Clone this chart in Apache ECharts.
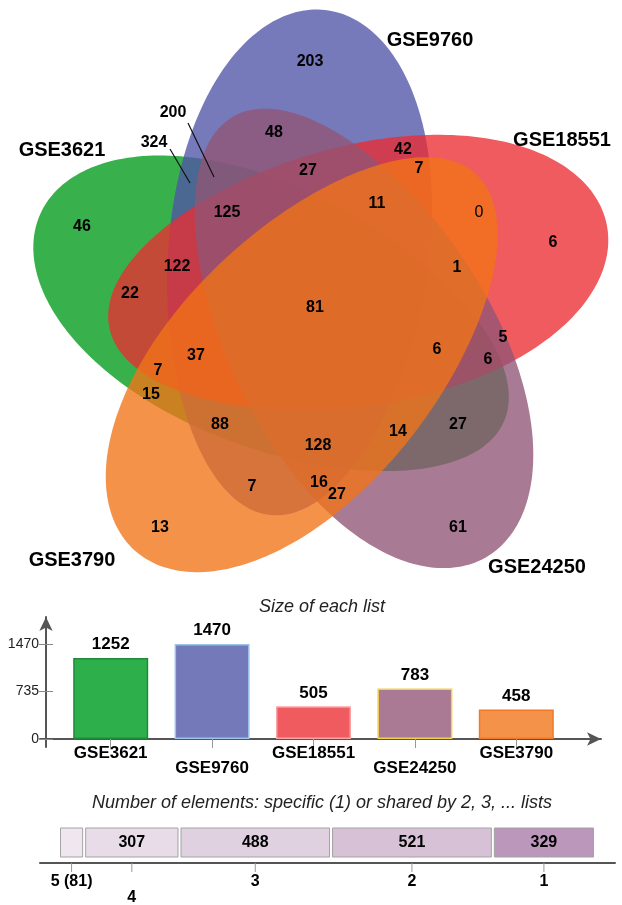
<!DOCTYPE html>
<html><head><meta charset="utf-8">
<script src="https://cdn.jsdelivr.net/npm/echarts@6/dist/echarts.min.js"></script>
<style>html,body{margin:0;padding:0;background:#fff}#c{width:622px;height:905px}</style>
</head><body><div id="c"></div>
<script>
// ---------------- data ----------------
const setNames = ['GSE3621', 'GSE9760', 'GSE18551', 'GSE24250', 'GSE3790'];
const listSizes = [1252, 1470, 505, 783, 458];
const sizeTicks = [0, 735, 1470];
const vennCounts = [203, 48, 200, 324, 42, 27, 7, 125, 11, 0, 6, 46, 122, 1, 22, 81, 37, 6, 5, 6, 7, 15, 88, 128, 14, 27, 7, 16, 27, 13, 61];
const sharedLevels = ['5 (81)', '4', '3', '2', '1'];
const sharedCounts = [81, 307, 488, 521, 329];

// ---------------- layout / style ----------------
const FONT = '"Liberation Sans", Arial, Helvetica, sans-serif';
const setColors = ['#2db04b', '#7479ba', '#ef5b5f', '#aa7993', '#f5924a'];
const barBorders = ['#1e8a3a', '#9cc3ea', '#f7a3a5', '#f0d050', '#f07a2a'];
const vennFills = ['rgba(0,154,24,0.78)', 'rgba(80,83,167,0.78)', 'rgba(235,45,50,0.78)', 'rgba(145,85,117,0.78)', 'rgba(242,115,23,0.78)'];
// ellipse layout: cx, cy, semi-major, semi-minor, angle(deg), bluntness
const vennShapes = [
  [272, 318, 254, 130, -155.8, 0.08],
  [297.5, 262.5, 254, 130, -83.8, 0.08],
  [358, 276, 254, 130, -11.8, 0.08],
  [359.5, 337, 254, 130, 60.2, 0.08],
  [305, 362, 254, 130, 132.2, 0.08]
];
const vennLabelPos = [[310,62],[274,133],[173,113],[154,143],[403,150],[308,171],[419,169],[227,213],[377,204],[479,213],[553,243],[82,227],[177,267],[457,268],[130,294],[315,308],[196,356],[437,350],[503,338],[488,360],[158,371],[151,395],[220,425],[318,446],[398,432],[458,425],[252,487],[319,483],[337,495],[160,528],[458,528]];
const setLabelPos = [[62,150],[430,40],[562,140],[537,567],[72,560]];
const sharedColors = ['#efe6ef', '#e8dce8', '#e0d1e0', '#d6c1d6', '#bb97bb'];

const vennScatter = vennCounts.map((v, i) => ({
  value: [vennLabelPos[i][0], vennLabelPos[i][1], v],
  label: (v === 0 ? { fontWeight: 'normal' } : undefined)
}));
const setScatter = setNames.map((n, i) => ({ value: [setLabelPos[i][0], setLabelPos[i][1]], name: n }));
let acc = 0;
const sharedData = sharedCounts.map((v, i) => { const s = acc; acc += v; return [s, acc, i]; });
const sharedTotal = acc;

function renderEgg(params, api) {
  const s = vennShapes[api.value(0)];
  const [cx, cy, a, b, ang, k] = s;
  const r = ang * Math.PI / 180, c = Math.cos(r), sn = Math.sin(r);
  const pts = [];
  for (let i = 0; i < 240; i++) {
    const t = i / 240 * 2 * Math.PI;
    const u = a * Math.cos(t), v = b * Math.sin(t) * (1 + k * Math.cos(t));
    pts.push(api.coord([cx + u * c - v * sn, cy + u * sn + v * c]));
  }
  return { type: 'polygon', shape: { points: pts }, style: { fill: vennFills[api.value(0)] } };
}

function renderShared(params, api) {
  const i = api.value(2);
  const p0 = api.coord([api.value(0), 1]);
  const p1 = api.coord([api.value(1), 0]);
  const x0 = p0[0] + 1.5, x1 = p1[0] - 1.5;
  const mid = (p0[0] + p1[0]) / 2;
  const children = [
    { type: 'rect', shape: { x: x0, y: p0[1], width: x1 - x0, height: p1[1] - p0[1] },
      style: { fill: sharedColors[i], stroke: '#a3a3a3', lineWidth: 1 } },
    { type: 'line', shape: { x1: mid, y1: p1[1] + 6, x2: mid, y2: p1[1] + 15 }, style: { stroke: '#999', lineWidth: 1 } },
    { type: 'text', x: mid, y: p1[1] + (i === 1 ? 41 : 25),
      style: { text: sharedLevels[i], fill: '#000', font: 'bold 16px ' + FONT, align: 'center', verticalAlign: 'middle' } }
  ];
  if (i > 0) children.push({ type: 'text', x: mid, y: (p0[1] + p1[1]) / 2,
      style: { text: String(sharedCounts[i]), fill: '#000', font: 'bold 16px ' + FONT, align: 'center', verticalAlign: 'middle' } });
  return { type: 'group', children };
}

const chart = echarts.init(document.getElementById('c'), null, { renderer: 'canvas' });
const hidden = { show: false };
chart.setOption({
  animation: false,
  backgroundColor: '#fff',
  textStyle: { fontFamily: FONT },
  grid: [
    { left: 0, top: 0, width: 622, height: 600 },            // venn
    { left: 60, top: 644, width: 507, height: 95 },          // size bars
    { left: 40, top: 700, width: 561, height: 39 },          // bar x-axis arrow line
    { left: 46, top: 617, width: 20, height: 130 },          // bar y-axis arrow line
    { left: 59, top: 828, width: 536, height: 29 },          // shared stack
    { left: 40, top: 830, width: 575, height: 33 }           // shared axis line
  ],
  xAxis: [
    { gridIndex: 0, type: 'value', min: 0, max: 622, show: false },
    { gridIndex: 1, type: 'category', data: setNames,
      axisLine: { show: false },
      axisTick: { show: true, alignWithLabel: true, length: 9, lineStyle: { color: '#999' } },
      axisLabel: { interval: 0, margin: 7, fontSize: 17, fontWeight: 'bold', color: '#000', lineHeight: 15,
        formatter: (v, i) => (i % 2 ? '\n' + v : v) } },
    { gridIndex: 2, type: 'value', min: 0, max: 1, axisLine: { show: true, symbol: ['none', 'arrow'], symbolSize: [10, 14], lineStyle: { color: '#555', width: 2 } },
      axisTick: hidden, axisLabel: hidden, splitLine: hidden },
    { gridIndex: 3, type: 'value', show: false },
    { gridIndex: 4, type: 'value', min: 0, max: sharedTotal, show: false },
    { gridIndex: 5, type: 'value', min: 0, max: 1, axisLine: { show: true, lineStyle: { color: '#555', width: 2 } },
      axisTick: hidden, axisLabel: hidden, splitLine: hidden }
  ],
  yAxis: [
    { gridIndex: 0, type: 'value', min: 0, max: 600, inverse: true, show: false },
    { gridIndex: 1, type: 'value', min: sizeTicks[0], max: sizeTicks[2], interval: sizeTicks[1], offset: 7,
      axisLine: { show: false }, splitLine: hidden,
      axisTick: { show: true, length: 14, lineStyle: { color: '#888' } },
      axisLabel: { margin: 14, fontSize: 14, color: '#222', formatter: v => String(v) } },
    { gridIndex: 2, type: 'value', show: false },
    { gridIndex: 3, type: 'value', min: 0, max: 1, axisLine: { show: true, symbol: ['none', 'arrow'], symbolSize: [10, 14], lineStyle: { color: '#555', width: 2 } },
      axisTick: hidden, axisLabel: hidden, splitLine: hidden },
    { gridIndex: 4, type: 'value', min: 0, max: 1, show: false },
    { gridIndex: 5, type: 'value', show: false }
  ],
  graphic: [
    { type: 'text', x: 322, y: 607, z: 100, style: { text: 'Size of each list', font: 'italic 18px ' + FONT, fill: '#222', align: 'center', verticalAlign: 'middle' } },
    { type: 'text', x: 322, y: 803, z: 100, style: { text: 'Number of elements: specific (1) or shared by 2, 3, ... lists', font: 'italic 18px ' + FONT, fill: '#222', align: 'center', verticalAlign: 'middle' } },
    { type: 'line', z: 100, shape: { x1: 170, y1: 149, x2: 190, y2: 183 }, style: { stroke: '#111', lineWidth: 1.2 } },
    { type: 'line', z: 100, shape: { x1: 188, y1: 123, x2: 214, y2: 177 }, style: { stroke: '#111', lineWidth: 1.2 } }
  ],
  series: [
    { type: 'custom', xAxisIndex: 0, yAxisIndex: 0, data: [[0], [1], [2], [3], [4]], renderItem: renderEgg, silent: true, z: 1 },
    { type: 'scatter', xAxisIndex: 0, yAxisIndex: 0, symbolSize: 0, z: 5, data: vennScatter, itemStyle: { opacity: 1 },
      label: { show: true, position: 'inside', formatter: p => String(p.value[2]), fontSize: 16, fontWeight: 'bold', color: '#000', textBorderWidth: 0, opacity: 1 } },
    { type: 'scatter', xAxisIndex: 0, yAxisIndex: 0, symbolSize: 0, z: 5, data: setScatter, itemStyle: { opacity: 1 },
      label: { show: true, position: 'inside', formatter: p => p.name, fontSize: 20, fontWeight: 'bold', color: '#000', textBorderWidth: 0, opacity: 1 } },
    { type: 'bar', xAxisIndex: 1, yAxisIndex: 1, barWidth: 75, z: 3,
      data: listSizes.map((v, i) => ({ value: v, itemStyle: { color: setColors[i], borderColor: barBorders[i], borderWidth: 1.5 } })),
      label: { show: true, position: 'top', distance: 5, fontSize: 17, fontWeight: 'bold', color: '#000' } },
    { type: 'custom', xAxisIndex: 4, yAxisIndex: 4, data: sharedData, renderItem: renderShared, z: 3 }
  ]
});
</script>
</body></html>
